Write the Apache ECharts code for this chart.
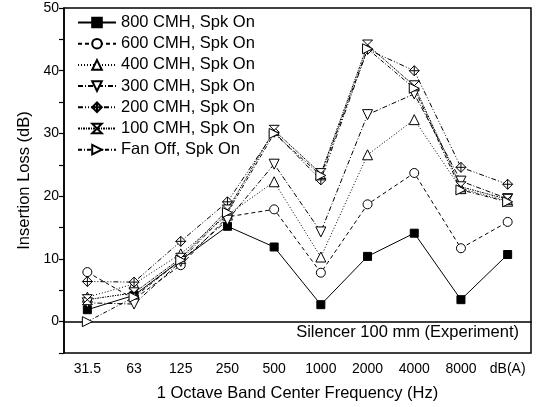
<!DOCTYPE html>
<html>
<head>
<meta charset="utf-8">
<script src="https://cdn.jsdelivr.net/npm/echarts@6/dist/echarts.min.js"></script>
<style>html,body{margin:0;padding:0;background:#fff}#c{width:537px;height:407px}</style>
</head>
<body>
<div id="c"></div>
<script>
var categories = ['31.5', '63', '125', '250', '500', '1000', '2000', '4000', '8000', 'dB(A)'];
var cmh800 = [1.9, 4.2, 9.8, 15.2, 11.9, 2.7, 10.4, 14.1, 3.5, 10.7];
var cmh600 = [7.9, 3.6, 9.0, 16.7, 17.9, 7.8, 18.7, 23.7, 11.7, 15.9];
var cmh400 = [3.9, 6.0, 10.8, 17.0, 22.3, 10.3, 26.6, 32.2, 21.2, 19.2];
var cmh300 = [3.0, 2.8, 9.6, 16.2, 25.1, 14.3, 33.0, 36.3, 22.4, 19.6];
var cmh200 = [6.4, 6.3, 12.8, 19.1, 30.2, 22.6, 43.4, 40.0, 24.6, 21.9];
var cmh100 = [3.5, 4.6, 10.1, 17.8, 30.5, 23.6, 44.1, 37.6, 21.5, 19.5];
var fanOff = [0.0, 3.9, 9.8, 17.4, 30.0, 23.3, 43.5, 37.2, 21.0, 19.1];
var seriesNames = ['800 CMH, Spk On', '600 CMH, Spk On', '400 CMH, Spk On', '300 CMH, Spk On', '200 CMH, Spk On', '100 CMH, Spk On', 'Fan Off, Spk On'];
var yTicks = [0, 10, 20, 30, 40, 50];

var FONT = '"Liberation Sans", Arial, sans-serif';
var symDiamondPlus = 'path://M5,0 L10,5 L5,10 L0,5 Z M5,0 L5,10 M0,5 L10,5';
var symHourglass = 'path://M0,0 L10,0 L0,10 L10,10 Z';
var symRightTri = 'path://M0,0 L10,5 L0,10 Z';

function mk(name, data, symbol, size, dash, filled) {
  return {
    name: name, type: 'line', data: data,
    symbol: symbol, symbolSize: size,
    lineStyle: { color: '#000', width: 1, type: dash },
    itemStyle: { color: filled ? '#000' : '#fff', borderColor: '#000', borderWidth: 1 },
    emphasis: { disabled: true },
    animation: false
  };
}

var chart = echarts.init(document.getElementById('c'));
chart.setOption({
  animation: false,
  backgroundColor: '#fff',
  grid: { left: 64, right: 6, top: 8, bottom: 54, show: true, borderColor: '#000', borderWidth: 1.5, backgroundColor: 'transparent' },
  legend: {
    orient: 'vertical', left: 77, top: 14, padding: 0,
    itemWidth: 38, itemHeight: 12, itemGap: 4.2,
    textStyle: { fontFamily: FONT, fontSize: 16.5, color: '#000', padding: [0, 0, 0, 0] },
    data: seriesNames
  },
  xAxis: {
    type: 'category', data: categories, boundaryGap: true,
    name: '1 Octave Band Center Frequency (Hz)', nameLocation: 'middle', nameGap: 32,
    nameTextStyle: { fontFamily: FONT, fontSize: 16.5, color: '#000' },
    axisLine: { lineStyle: { color: '#000', width: 1.5 } },
    axisTick: { alignWithLabel: true, inside: true, length: 7, lineStyle: { color: '#000', width: 1.2 } },
    axisLabel: { fontFamily: FONT, fontSize: 14, color: '#000', margin: 9 },
    splitLine: { show: false }
  },
  yAxis: {
    type: 'value', min: -5, max: 50, interval: 5,
    name: 'Insertion Loss (dB)', nameLocation: 'middle', nameGap: 23,
    nameTextStyle: { fontFamily: FONT, fontSize: 16.5, color: '#000' },
    axisLine: { show: true, lineStyle: { color: '#000', width: 1.5 } },
    axisTick: { show: true, inside: false, length: 5, lineStyle: { color: '#000', width: 1.2 } },
    axisLabel: {
      fontFamily: FONT, fontSize: 14, color: '#000', margin: 5,
      formatter: function (v) { return yTicks.indexOf(v) >= 0 ? String(v) : ''; }
    },
    splitLine: { show: false }
  },
  graphic: [{
    type: 'text', right: 18, top: 324,
    style: { text: 'Silencer 100 mm (Experiment)', font: '16.5px "Liberation Sans", Arial, sans-serif', fill: '#000' }
  }],
  series: [
    mk(seriesNames[0], cmh800, 'rect', 8, 'solid', true),
    mk(seriesNames[1], cmh600, 'circle', 9, [4, 3], false),
    mk(seriesNames[2], cmh400, 'triangle', 10, [1, 2], false),
    mk(seriesNames[3], cmh300, 'path://M0,0 L10,0 L5,10 Z', 10, [5, 2, 1, 2], false),
    mk(seriesNames[4], cmh200, symDiamondPlus, 10, [5, 2, 1, 2, 1, 2], false),
    mk(seriesNames[5], cmh100, symHourglass, 10, [2, 1, 1, 1], false),
    mk(seriesNames[6], fanOff, symRightTri, 10, [4, 2, 1, 2], false)
  ]
});
</script>
</body>
</html>
